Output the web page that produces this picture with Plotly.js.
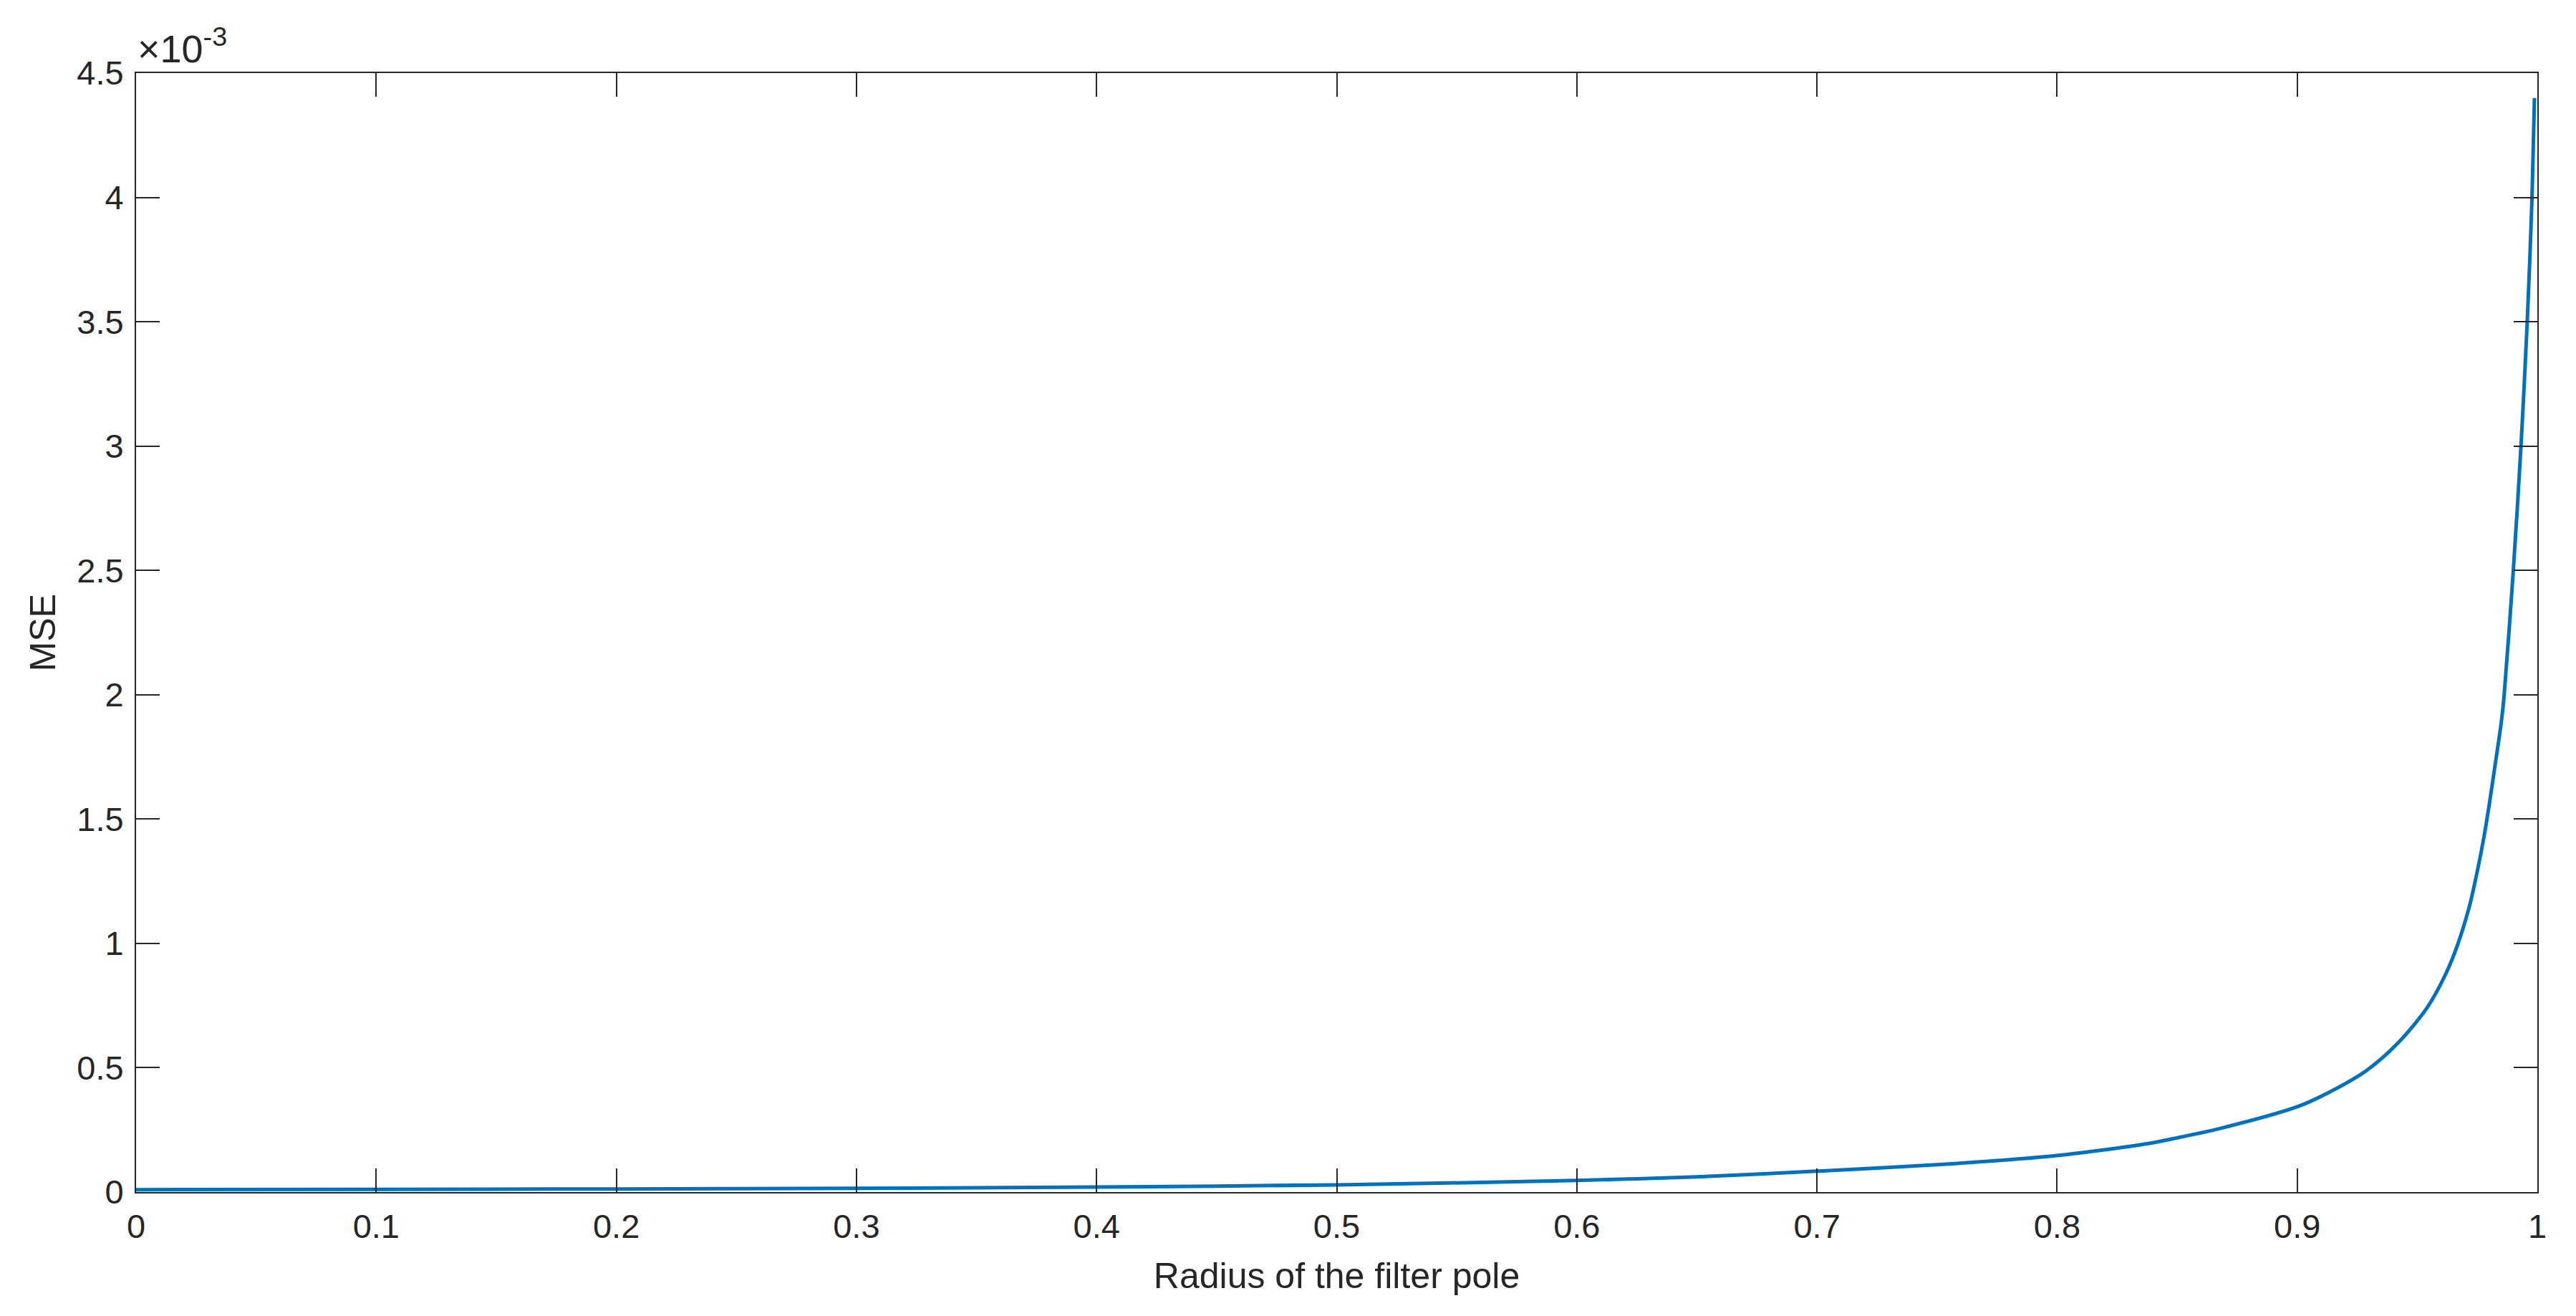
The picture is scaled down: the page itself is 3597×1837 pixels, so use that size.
<!DOCTYPE html>
<html>
<head>
<meta charset="utf-8">
<script src="https://cdn.plot.ly/plotly-3.0.1.min.js"></script>
<style>
  html, body { margin: 0; padding: 0; background: #fff; }
  #plot { width: 3597px; height: 1837px; }
</style>
</head>
<body>
<div id="plot"></div>
<script>
// radius of the filter pole
const radius = [0, 0.1, 0.2, 0.3, 0.4, 0.5, 0.6, 0.65, 0.7, 0.75, 0.8, 0.838, 0.85, 0.868,
  0.9, 0.913, 0.929, 0.942, 0.954, 0.962, 0.967, 0.972, 0.975, 0.978, 0.980, 0.982,
  0.985, 0.9862, 0.990, 0.9932, 0.9958, 0.9978, 0.9988];

// MSE, in units of 1e-3 (axis shows x10^-3)
const mse = [0.0095, 0.011, 0.0125, 0.015, 0.020, 0.029, 0.047, 0.061, 0.084, 0.11, 0.147, 0.195, 0.218, 0.256,
  0.343, 0.40, 0.49, 0.60, 0.74, 0.88, 1.00, 1.16, 1.29, 1.44, 1.56, 1.69,
  1.89, 2.0, 2.5, 3.0, 3.5, 4.0, 4.4];

const xTicks = [0, 0.1, 0.2, 0.3, 0.4, 0.5, 0.6, 0.7, 0.8, 0.9, 1];
const yTicks = [0, 0.5, 1, 1.5, 2, 2.5, 3, 3.5, 4, 4.5];

const textColor = "#262626";
const font = "Liberation Sans, Arial, Helvetica, sans-serif";

const trace = {
    x: radius,
    y: mse,
    type: "scatter",
    mode: "lines",
    line: { color: "#0072BD", width: 5, shape: "spline", smoothing: 0.8 },
    hoverinfo: "skip"
};

const axisBase = {
    showline: true,
    linecolor: textColor,
    linewidth: 2,
    mirror: "ticks",
    ticks: "inside",
    ticklen: 33,
    tickwidth: 2,
    tickcolor: textColor,
    showgrid: false,
    zeroline: false,
    tickfont: { family: font, size: 47, color: textColor }
};

const layout = {
    width: 3597,
    height: 1837,
    margin: { l: 190, r: 54, t: 102, b: 173 },
    paper_bgcolor: "#fff",
    plot_bgcolor: "#fff",
    showlegend: false,
    font: { family: font, color: textColor },
    xaxis: Object.assign({}, axisBase, {
        range: [0, 1],
        tickvals: xTicks,
        ticktext: xTicks.map(String),
        ticklabelstandoff: 6,
        title: { text: "Radius of the filter pole", font: { family: font, size: 50, color: textColor }, standoff: 26 }
    }),
    yaxis: Object.assign({}, axisBase, {
        range: [0, 4.5],
        tickvals: yTicks,
        ticktext: yTicks.map(String),
        ticklabelstandoff: 6,
        title: { text: "MSE", font: { family: font, size: 50, color: textColor }, standoff: 14 }
    }),
    annotations: [{
        xref: "paper", yref: "paper",
        x: 0, y: 1,
        xanchor: "left", yanchor: "bottom",
        xshift: 0, yshift: 2,
        showarrow: false,
        text: "×10<sup>-3</sup>",
        font: { family: font, size: 54, color: textColor }
    }]
};

Plotly.newPlot("plot", [trace], layout, { staticPlot: true, displayModeBar: false });
</script>
</body>
</html>
